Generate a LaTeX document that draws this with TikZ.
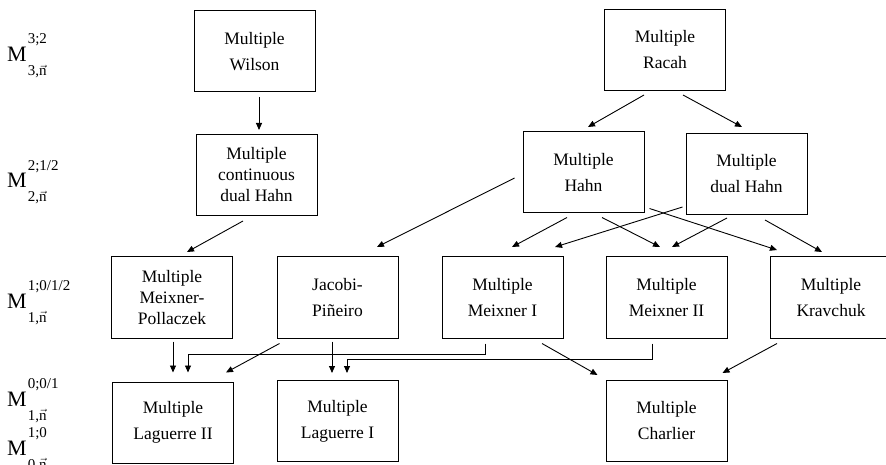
\documentclass[tikz,border=0pt]{standalone}
\usepackage{fontspec}
\usepackage{amsmath}
\setmainfont{Liberation Serif}
\usetikzlibrary{arrows.meta}
\newcommand\scriptpart[1]{{\fontsize{15}{15}\selectfont #1}}
\newcommand\famlevel[2]{M\makebox[0pt][l]{\hspace{1pt}\raisebox{18pt}{\scriptpart{#1}}}%
  \hspace{1pt}\raisebox{-14pt}{\scriptpart{#2,$\vec{\text{n}}$}}}
\begin{document}
\begin{tikzpicture}[x=1pt, y=1pt,
  family box/.style={draw, line width=1pt, minimum width=121pt, minimum height=81pt,
    align=center, inner sep=0pt, font=\fontsize{17.5}{21}\selectfont},
  level label/.style={anchor=base west, inner sep=0pt, font=\fontsize{22}{24}\selectfont},
  link/.style={line width=0.9pt, -{Triangle[length=7pt,width=6pt]}}]
\useasboundingbox (0,0) rectangle (886,464);
% levels of the scheme
\node[level label] (lvlthree) at (7,402) {\famlevel{3;2}{3}};
\node[level label] (lvltwo)   at (7,276) {\famlevel{2;1/2}{2}};
\node[level label] (lvlone)   at (7,156) {\famlevel{1;0/1/2}{1}};
\node[level label] (lvlzeroa) at (7,58)  {\famlevel{0;0/1}{1}};
\node[level label] (lvlzerob) at (7,9)   {\famlevel{1;0}{0}};
% families
\node[family box] (wilson)   at (254.5,412.5) {Multiple\\[5pt]Wilson};
\node[family box] (racah)    at (665,414)     {Multiple\\[5pt]Racah};
\node[family box] (cdh)      at (256.5,289)   {Multiple\\continuous\\dual Hahn};
\node[family box] (hahn)     at (583.5,291.5) {Multiple\\[5pt]Hahn};
\node[family box] (dhahn)    at (746.5,290)   {Multiple\\[5pt]dual Hahn};
\node[family box] (mp)       at (172,166.5)   {Multiple\\Meixner-\\Pollaczek};
\node[family box] (jp)       at (337.5,166.5) {Jacobi-\\[5pt]Piñeiro};
\node[family box] (mone)     at (502.5,166.5) {Multiple\\[5pt]Meixner I};
\node[family box] (mtwo)     at (666.5,166.5) {Multiple\\[5pt]Meixner II};
\node[family box] (kr)       at (831,166.5)   {Multiple\\[5pt]Kravchuk};
\node[family box] (lagtwo)   at (173,41.5)    {Multiple\\[5pt]Laguerre II};
\node[family box] (lagone)   at (337.5,43)    {Multiple\\[5pt]Laguerre I};
\node[family box] (charlier) at (666.5,43)    {Multiple\\[5pt]Charlier};
% top levels
\draw[link] ([shift={(4.5,-4.5)}]wilson.south) -- ([shift={(2.5,4)}]cdh.north);
\draw[link] ([shift={(-21,-4)}]racah.south) -- ([shift={(4.5,4.5)}]hahn.north);
\draw[link] ([shift={(18,-4)}]racah.south) -- ([shift={(-4.5,6)}]dhahn.north);
\draw[link] ([shift={(-13.5,-5)}]cdh.south) -- ([shift={(15,4.5)}]mp.north);
\draw[link] ([shift={(-8,-5.5)}]hahn.west) -- ([shift={(39.5,9.5)}]jp.north);
\draw[link] ([shift={(-16.5,-4)}]hahn.south) -- ([shift={(9.5,9.5)}]mone.north);
\draw[link] ([shift={(-3,8)}]dhahn.south west) -- ([shift={(52.5,9.5)}]mone.north);
\draw[link] ([shift={(18.5,-4)}]hahn.south) -- ([shift={(-6.5,9.5)}]mtwo.north);
\draw[link] ([shift={(-19.5,-3)}]dhahn.south) -- ([shift={(5.5,9.5)}]mtwo.north);
\draw[link] ([shift={(5,5)}]hahn.south east) -- ([shift={(-54,6.5)}]kr.north);
\draw[link] ([shift={(18.5,-5)}]dhahn.south) -- ([shift={(-9,4.5)}]kr.north);
% bottom level
\draw[link] ([shift={(1,-3)}]mp.south) -- ([shift={(0,9)}]lagtwo.north);
\draw[link] ([shift={(-17.5,-5)}]mone.south) -- ++(0,-11) -| ([shift={(15,9)}]lagtwo.north);
\draw[link] ([shift={(3,-5)}]jp.south west) -- ([shift={(-8,9)}]lagtwo.north east);
\draw[link] ([shift={(-5.5,-3)}]jp.south) -- ([shift={(-5.5,7)}]lagone.north);
\draw[link] ([shift={(-14.5,-5)}]mtwo.south) -- ++(0,-16) -| ([shift={(9.5,7)}]lagone.north);
\draw[link] ([shift={(39.5,-5)}]mone.south) -- ([shift={(-8,5)}]charlier.north west);
\draw[link] ([shift={(-54,-5)}]kr.south) -- ([shift={(-5,7)}]charlier.north east);
\end{tikzpicture}
\end{document}
